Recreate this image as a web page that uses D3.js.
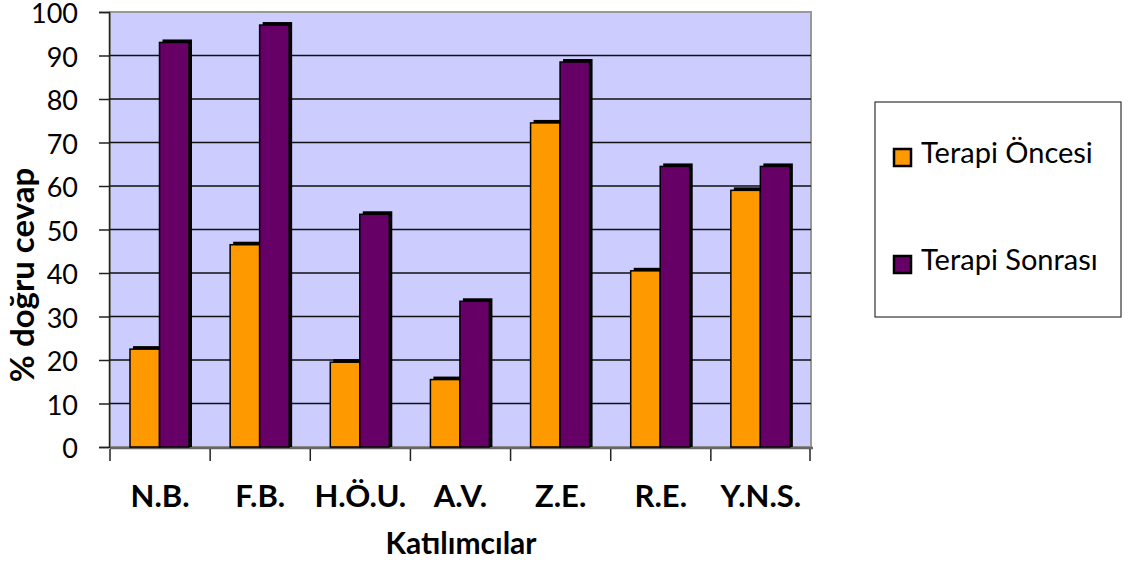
<!DOCTYPE html>
<html>
<head>
<meta charset="utf-8">
<script src="https://cdn.jsdelivr.net/npm/d3@7"></script>
<style>
  body { margin: 0; background: #fff; }
  svg text { font-family: Lato, "Open Sans", sans-serif; fill: #000; }
</style>
</head>
<body>
<div id="chart"></div>
<script>
const categories = ["N.B.", "F.B.", "H.Ö.U.", "A.V.", "Z.E.", "R.E.", "Y.N.S."];
const seriesNames = ["Terapi Öncesi", "Terapi Sonrası"];
const oncesi = [22.5, 46.5, 19.5, 15.5, 74.5, 40.5, 59];
const sonrasi = [93, 97, 53.5, 33.5, 88.5, 64.5, 64.5];
const yTicks = [0, 10, 20, 30, 40, 50, 60, 70, 80, 90, 100];
const colors = ["#FF9900", "#660066"];

const width = 1129, height = 565;
const plot = { left: 110, right: 811, top: 12, bottom: 447 };

const svg = d3.select("#chart").append("svg")
  .attr("width", width).attr("height", height);

const x0 = d3.scaleBand().domain(categories).range([plot.left, plot.right]);
const x1 = d3.scaleBand().domain(seriesNames).range([20, 79]);
const y = d3.scaleLinear().domain([0, 100]).range([plot.bottom, plot.top]);

// plot area background
svg.append("rect")
  .attr("x", plot.left).attr("y", plot.top)
  .attr("width", plot.right - plot.left).attr("height", plot.bottom - plot.top)
  .attr("fill", "#CCCCFF").attr("stroke", "#999").attr("stroke-width", 2);

// grid lines
svg.append("g").selectAll("line")
  .data(yTicks.filter(d => d > 0 && d < 100))
  .join("line")
  .attr("x1", plot.left).attr("x2", plot.right)
  .attr("y1", d => y(d)).attr("y2", d => y(d))
  .attr("stroke", "#111").attr("stroke-width", 1.5);

// floor
svg.append("line")
  .attr("x1", plot.left).attr("x2", plot.right + 2)
  .attr("y1", plot.bottom + 1).attr("y2", plot.bottom + 1)
  .attr("stroke", "#666").attr("stroke-width", 2.5);

// y axis
const yAxis = svg.append("g")
  .attr("transform", `translate(${plot.left - 1},0)`)
  .call(d3.axisLeft(y).tickValues(yTicks).tickSize(10).tickPadding(21));
yAxis.select(".domain").attr("stroke", "#222").attr("stroke-width", 1.5);
yAxis.selectAll(".tick line").attr("stroke", "#222").attr("stroke-width", 1.5);
yAxis.selectAll("text")
  .attr("font-size", 27).attr("font-family", "Lato, sans-serif")
  .attr("dy", "0.4em");

// x axis ticks (category boundaries)
svg.append("g").selectAll("line")
  .data(categories.map(c => x0(c)).concat([plot.right - 1]))
  .join("line")
  .attr("x1", d => d).attr("x2", d => d)
  .attr("y1", plot.bottom + 2).attr("y2", plot.bottom + 14)
  .attr("stroke", "#222").attr("stroke-width", 1.5);

// x labels
svg.append("g").selectAll("text")
  .data(categories)
  .join("text")
  .attr("x", d => x0(d) + x0.bandwidth() / 2)
  .attr("y", 507)
  .attr("text-anchor", "middle")
  .attr("font-size", 31).attr("font-weight", "bold")
  .text(d => d);

// bars
const rows = categories.map((c, i) => ({ cat: c, vals: [oncesi[i], sonrasi[i]] }));
const groups = svg.append("g").selectAll("g")
  .data(rows)
  .join("g")
  .attr("transform", d => `translate(${x0(d.cat)},0)`);

const barData = d => d.vals.map((v, j) => ({ name: seriesNames[j], value: v, color: colors[j] }));

// shadow
groups.selectAll("rect.shadow")
  .data(barData)
  .join("rect")
  .attr("class", "shadow")
  .attr("x", d => x1(d.name) + 3)
  .attr("y", d => y(d.value) - 3)
  .attr("width", x1.bandwidth())
  .attr("height", d => plot.bottom - y(d.value) + 3)
  .attr("fill", "#000");

groups.selectAll("rect.bar")
  .data(barData)
  .join("rect")
  .attr("class", "bar")
  .attr("x", d => x1(d.name))
  .attr("y", d => y(d.value))
  .attr("width", x1.bandwidth())
  .attr("height", d => plot.bottom - y(d.value))
  .attr("fill", d => d.color)
  .attr("stroke", "#000").attr("stroke-width", 1.5);

// axis titles
svg.append("text")
  .attr("transform", `translate(34,275) rotate(-90)`)
  .attr("text-anchor", "middle")
  .attr("font-size", 33).attr("font-weight", "bold")
  .text("% doğru cevap");

svg.append("text")
  .attr("x", 461).attr("y", 554)
  .attr("text-anchor", "middle")
  .attr("font-size", 30).attr("font-weight", "bold")
  .text("Katılımcılar");

// legend
const legend = svg.append("g").attr("transform", "translate(875,102)");
legend.append("rect")
  .attr("width", 246).attr("height", 215)
  .attr("fill", "#fff").attr("stroke", "#333").attr("stroke-width", 1.2);

const items = legend.selectAll("g.item")
  .data(seriesNames)
  .join("g")
  .attr("class", "item")
  .attr("transform", (d, i) => `translate(19,${61 + i * 107})`);
items.append("rect")
  .attr("x", 0).attr("y", -14)
  .attr("width", 17).attr("height", 17)
  .attr("fill", (d, i) => colors[i])
  .attr("stroke", "#000").attr("stroke-width", 2.5);
items.append("text")
  .attr("x", 27).attr("y", 0)
  .attr("font-size", 29)
  .text(d => d);
</script>
</body>
</html>
